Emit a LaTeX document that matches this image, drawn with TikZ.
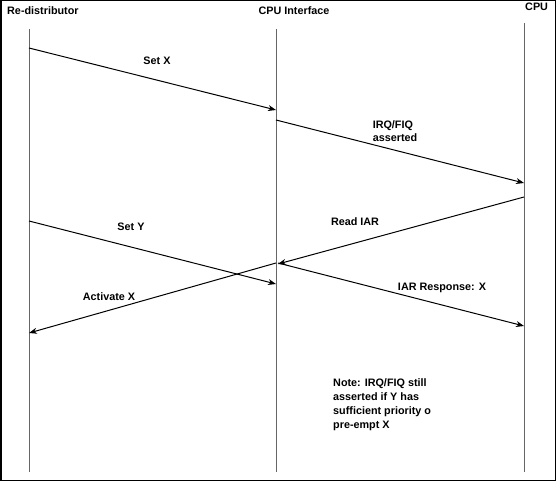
\documentclass[tikz,border=0pt]{standalone}
\usepackage{fontspec}
\setmainfont{Liberation Sans}
\usetikzlibrary{arrows.meta}
\begin{document}
\begin{tikzpicture}[x=1pt,y=-1pt,
  lbl/.style={font=\fontsize{10.8}{13.5}\selectfont\bfseries,inner sep=0pt},
  life/.style={draw=black!60,line width=0.9pt},
  msg/.style={draw=black,line width=1pt,-{Stealth[length=8pt,width=6pt]}}]
\useasboundingbox (0,0) rectangle (556,481);
\draw[line width=1.5pt] (0.75,0.75) rectangle (555.25,480.25);
% headers
\node[lbl,anchor=west] (hr) at (7,11) {Re-distributor};
\node[lbl] (hi) at (294,11) {CPU Interface};
\node[lbl,anchor=west] (hc) at (525,7) {CPU};
% lifelines
\coordinate (r0) at (29,29); \coordinate (r1) at (29,472);
\coordinate (i0) at (276,29); \coordinate (i1) at (276,472);
\coordinate (c0) at (524,23); \coordinate (c1) at (524,472);
\draw[life] (r0) -- (r1);
\draw[life] (i0) -- (i1);
\draw[life] (c0) -- (c1);
% message points
\coordinate (a1) at (29,48);  \coordinate (b1) at (276,110);
\coordinate (a2) at (276,120); \coordinate (b2) at (524,183);
\coordinate (a3) at (524,197); \coordinate (b3) at (278,264);
\coordinate (a4) at (29,221);  \coordinate (b4) at (276,284);
\coordinate (a5) at (278,263); \coordinate (b5) at (524,326);
\coordinate (a6) at (276,263); \coordinate (b6) at (29,333);
\draw[msg] (a1) -- (b1);
\draw[msg] (a2) -- (b2);
\draw[msg] (a3) -- (b3);
\draw[msg] (a4) -- (b4);
\draw[msg] (a5) -- (b5);
\draw[msg] (a6) -- (b6);
% labels
\node[lbl] (l1) at (157,61) {Set X};
\node[lbl,align=left] (l2) at (395,131) {IRQ/FIQ\\asserted};
\node[lbl] (l3) at (355,222) {Read IAR};
\node[lbl] (l4) at (131,227) {Set Y};
\node[lbl] (l5) at (442,288) {IAR Response: X};
\node[lbl] (l6) at (109,297) {Activate X};
\node[lbl,align=left,anchor=north west,font=\fontsize{10.8}{14}\selectfont\bfseries] (note) at (333,378) {Note: IRQ/FIQ still\\asserted if Y has\\sufficient priority o\\pre-empt X};
\end{tikzpicture}
\end{document}
